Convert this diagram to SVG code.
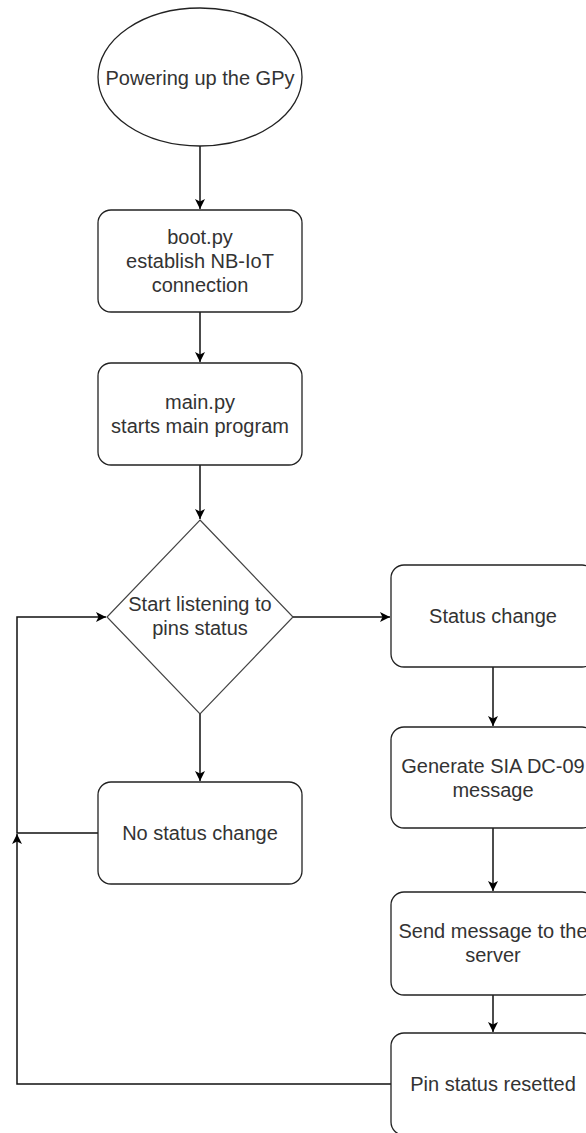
<svg xmlns="http://www.w3.org/2000/svg" width="586" height="1133" viewBox="0 0 586 1133">
<defs>
<marker id="arr" markerUnits="userSpaceOnUse" markerWidth="11" markerHeight="10" refX="10" refY="5" orient="auto">
<path d="M0,0 L10,5 L0,10 L2.5,5 Z" fill="#000"/>
</marker>
</defs>
<style>
.shape{fill:#fff;stroke:#222;stroke-width:1.3}
.dia{fill:#fff;stroke:#444;stroke-width:1.2}
.conn{fill:none;stroke:#111;stroke-width:1.5}
.t{font-family:"Liberation Sans",Arial,sans-serif;font-size:20px;fill:#333;text-anchor:middle;dominant-baseline:central}
</style>
<rect x="0" y="0" width="586" height="1133" fill="#fff"/>
<g id="connectors">
<path class="conn" d="M200,146 L200,209" marker-end="url(#arr)"/>
<path class="conn" d="M200,312 L200,362" marker-end="url(#arr)"/>
<path class="conn" d="M200,465 L200,519" marker-end="url(#arr)"/>
<path class="conn" d="M293,617 L390,617" marker-end="url(#arr)"/>
<path class="conn" d="M200,714 L200,781" marker-end="url(#arr)"/>
<path class="conn" d="M493,667 L493,726" marker-end="url(#arr)"/>
<path class="conn" d="M493,828 L493,891" marker-end="url(#arr)"/>
<path class="conn" d="M493,995 L493,1032" marker-end="url(#arr)"/>
<path class="conn" d="M98,833 L17,833 L17,617 L106,617" marker-end="url(#arr)"/>
<path class="conn" d="M391,1084 L17,1084 L17,834" marker-end="url(#arr)"/>
</g>
<g id="start">
<ellipse class="shape" cx="200" cy="77" rx="102" ry="69"/>
<text class="t" x="200" y="78">Powering up the GPy</text>
</g>
<g id="boot">
<rect class="shape" x="98" y="210" width="204" height="102" rx="13"/>
<text class="t" x="200" y="237">boot.py</text>
<text class="t" x="200" y="261">establish NB-IoT</text>
<text class="t" x="200" y="285">connection</text>
</g>
<g id="main">
<rect class="shape" x="98" y="363" width="204" height="102" rx="13"/>
<text class="t" x="200" y="402">main.py</text>
<text class="t" x="200" y="426">starts main program</text>
</g>
<g id="listen">
<polygon class="dia" points="200,520 293,617 200,714 107,617"/>
<text class="t" x="200" y="604">Start listening to</text>
<text class="t" x="200" y="628">pins status</text>
</g>
<g id="nochange">
<rect class="shape" x="98" y="782" width="204" height="102" rx="13"/>
<text class="t" x="200" y="833">No status change</text>
</g>
<g id="change">
<rect class="shape" x="391" y="565" width="204" height="102" rx="13"/>
<text class="t" x="493" y="616">Status change</text>
</g>
<g id="generate">
<rect class="shape" x="391" y="727" width="204" height="101" rx="13"/>
<text class="t" x="493" y="766">Generate SIA DC-09</text>
<text class="t" x="493" y="790">message</text>
</g>
<g id="send">
<rect class="shape" x="391" y="892" width="204" height="103" rx="13"/>
<text class="t" x="493" y="931">Send message to the</text>
<text class="t" x="493" y="955">server</text>
</g>
<g id="reset">
<rect class="shape" x="391" y="1033" width="204" height="102" rx="13"/>
<text class="t" x="493" y="1084">Pin status resetted</text>
</g>
</svg>
